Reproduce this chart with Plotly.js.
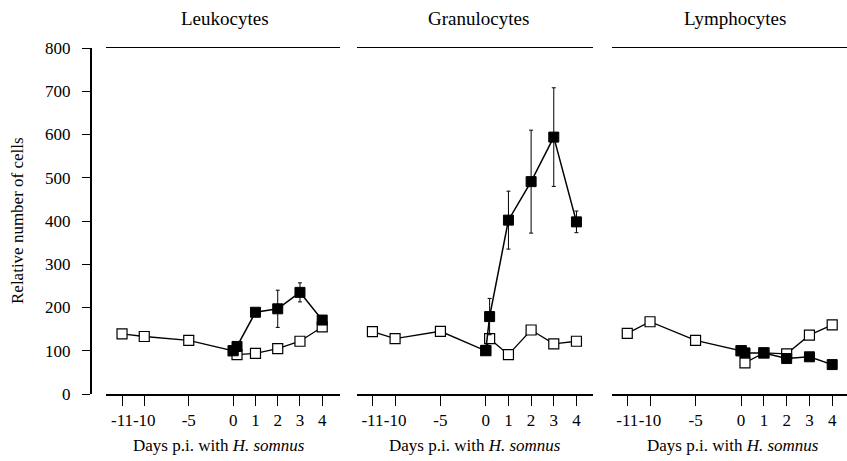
<!DOCTYPE html>
<html>
<head>
<meta charset="utf-8">
<script src="https://cdn.plot.ly/plotly-3.0.1.min.js"></script>
<style>html,body{margin:0;padding:0;background:#fff}#chart{width:847px;height:461px}</style>
</head>
<body>
<div id="chart"></div>
<script>
// Days post infection (0.17 = a few hours p.i.)
const panelTitles = ["Leukocytes", "Granulocytes", "Lymphocytes"];
const tickDays = [-11, -10, -5, 0, 1, 2, 3, 4];
const tickLabels = ["-11", "-10", "-5", "0", "1", "2", "3", "4"];

const openDays = [-11, -10, -5, 0, 0.17, 1, 2, 3, 4];
const filledDays = [0, 0.17, 1, 2, 3, 4];

// Leukocytes
const leukoOpen = [139, 133, 124, 100, 91, 94, 105, 122, 155];
const leukoFilled = [100, 110, 189, 197, 235, 171];
const leukoFilledErr = [0, 0, 0, 43, 22, 0];

// Granulocytes
const granOpen = [144, 128, 145, 100, 128, 91, 148, 116, 122];
const granFilled = [101, 179, 402, 491, 594, 398];
const granFilledErr = [0, 42, 67, 119, 114, 25];

// Lymphocytes
const lymphOpen = [140, 167, 124, 100, 72, 95, 93, 136, 160];
const lymphFilled = [100, 95, 95, 82, 86, 68];
const lymphFilledErr = [0, 0, 0, 0, 0, 0];

// Category-like day scale used by the original figure
function pos(d) {
  if (d <= -10) return d + 11;
  if (d <= 0) return 1 + (d + 10) * 0.4;
  return 5 + d;
}

const series = [
  [leukoOpen, leukoFilled, leukoFilledErr],
  [granOpen, granFilled, granFilledErr],
  [lymphOpen, lymphFilled, lymphFilledErr]
];

const axNames = ["x", "x2", "x3"];
const traces = [];
series.forEach((s, i) => {
  traces.push({
    x: openDays.map(pos), y: s[0], xaxis: axNames[i], yaxis: "y",
    mode: "lines+markers", type: "scatter", showlegend: false,
    line: {color: "#000", width: 1.3},
    marker: {symbol: "square", size: 10, color: "#fff", line: {color: "#000", width: 1.2}}
  });
  traces.push({
    x: filledDays.map(pos), y: s[1], xaxis: axNames[i], yaxis: "y",
    mode: "lines+markers", type: "scatter", showlegend: false,
    line: {color: "#000", width: 1.5},
    marker: {symbol: "square", size: 10, color: "#000", line: {color: "#000", width: 1}},
    error_y: {type: "data", array: s[2], visible: true, color: "#000", thickness: 1, width: 2}
  });
});

const font = {family: "Liberation Serif, DejaVu Serif, Times New Roman, serif", color: "#000"};
const W = 757;
function dom(a, b) { return [(a - 90) / W, (b - 90) / W]; }

function xax(domain, range) {
  return {
    domain: domain, range: range, anchor: "y",
    showgrid: false, zeroline: false,
    showline: true, linecolor: "#000", linewidth: 1.5, mirror: true,
    ticks: "outside", ticklen: 10, tickwidth: 1, tickcolor: "#000",
    tickmode: "array", tickvals: tickDays.map(pos), ticktext: tickLabels,
    tickangle: 0,
    tickfont: Object.assign({size: 17}, font)
  };
}

const annotations = [];
const centers = [225, 478, 735];
panelTitles.forEach((t, i) => {
  annotations.push({
    text: t, xref: "paper", yref: "paper",
    x: (centers[i] - 90) / W, y: (394 - 18) / 346,
    xanchor: "center", yanchor: "middle", showarrow: false,
    font: Object.assign({size: 19}, font)
  });
});
const xtCenters = [219, 475, 733];
xtCenters.forEach(c => {
  annotations.push({
    text: "Days p.i. with <i>H. somnus</i>", xref: "paper", yref: "paper",
    x: (c - 90) / W, y: (394 - 445) / 346,
    xanchor: "center", yanchor: "middle", showarrow: false,
    font: Object.assign({size: 17}, font)
  });
});
annotations.push({
  text: "Relative number of cells", xref: "paper", yref: "paper",
  x: (17 - 90) / W, y: (394 - 221) / 346, textangle: -90,
  xanchor: "center", yanchor: "middle", showarrow: false,
  font: Object.assign({size: 17}, font)
});

const layout = {
  width: 847, height: 461,
  margin: {l: 90, r: 0, t: 48, b: 67},
  paper_bgcolor: "#fff", plot_bgcolor: "rgba(0,0,0,0)",
  font: font,
  xaxis: xax(dom(106, 340), [-0.72, 9.8]),
  xaxis2: xax(dom(357, 593), [-0.68, 9.73]),
  xaxis3: xax(dom(612, 847), [-0.67, 9.65]),
  yaxis: {
    range: [0, 800], anchor: "free", position: 0,
    showgrid: false, zeroline: false,
    showline: true, linecolor: "#000", linewidth: 1.5,
    ticks: "outside", ticklen: 8, tickwidth: 1, tickcolor: "#000",
    ticklabelstandoff: 8,
    tickvals: [0, 100, 200, 300, 400, 500, 600, 700, 800],
    tickfont: Object.assign({size: 17}, font)
  },
  annotations: annotations
};

Plotly.newPlot("chart", traces, layout, {staticPlot: true, displayModeBar: false});
</script>
</body>
</html>
